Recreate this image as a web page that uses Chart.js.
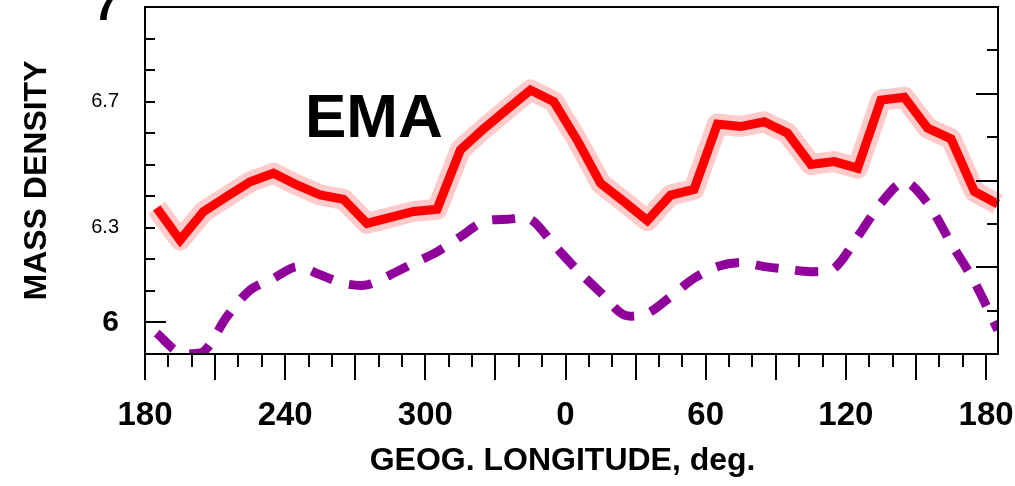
<!DOCTYPE html>
<html>
<head>
<meta charset="utf-8">
<script src="https://cdn.jsdelivr.net/npm/chart.js@4.4.1/dist/chart.umd.min.js"></script>
<style>
html, body { margin: 0; padding: 0; background: #fff; }
</style>
</head>
<body>
<canvas id="chart" width="1015" height="486"></canvas>
<script>
// geog. longitude, unwrapped (185 ... 545 = 185 ... 180+5)
LONGITUDE = [185, 195, 205, 215, 225, 235, 245, 255, 265, 275,
             285, 295, 305, 315, 325, 335, 345, 355, 365, 375,
             385, 395, 405, 415, 425, 435, 445, 455, 465, 475,
             485, 495, 505, 515, 525, 535, 545]

EMA_SOLID = [6.363, 6.261, 6.351, 6.399, 6.446, 6.473, 6.436, 6.404, 6.390, 6.314,
             6.333, 6.352, 6.359, 6.547, 6.614, 6.676, 6.737, 6.700, 6.578, 6.441,
             6.383, 6.323, 6.404, 6.422, 6.629, 6.621, 6.636, 6.600, 6.501, 6.510,
             6.489, 6.705, 6.714, 6.616, 6.582, 6.415, 6.375]

EMA_DASHED = [5.966, 5.903, 5.907, 6.018, 6.103, 6.140, 6.177, 6.151, 6.124, 6.119,
              6.151, 6.188, 6.224, 6.272, 6.320, 6.327, 6.327, 6.246, 6.166, 6.095,
              6.024, 6.029, 6.082, 6.140, 6.177, 6.190, 6.177, 6.169, 6.161, 6.172,
              6.272, 6.378, 6.446, 6.378, 6.251, 6.129, 5.976]

X_TICKS = [180, 240, 300, 360, 420, 480, 540]
X_TICK_LABELS = ['180', '240', '300', '0', '60', '120', '180']
Y_TICKS = [6, 6.3, 6.7, 7]

FONT = "'Liberation Sans', Arial, sans-serif"

function pts(ys) {
    return ys.map((y, i) => ({x: LONGITUDE[i], y: y}))
}

// frame, inward/outward tick marks and the EMA label
framePlugin = {
    id: 'frame',
    afterDatasetsDraw(chart) {
        var ctx = chart.ctx
        var a = chart.chartArea
        var xs = chart.scales.x, ys = chart.scales.y, y2 = chart.scales.y2
        ctx.save()
        ctx.strokeStyle = '#000'
        ctx.lineWidth = 2
        ctx.strokeRect(a.left, a.top, a.right - a.left, a.bottom - a.top)
        ctx.beginPath()
        // left: minor every 0.1, major at integers
        for (var i = 59; i <= 70; i++) {
            var py = Math.round(ys.getPixelForValue(i / 10))
            var len = (i % 10 == 0) ? 21 : 10
            ctx.moveTo(a.left, py); ctx.lineTo(a.left + len, py)
        }
        // right: 8 divisions
        for (var j = 0; j <= 8; j++) {
            var py2 = Math.round(y2.getPixelForValue(j))
            var len2 = (j % 2 == 0) ? 22 : 11
            ctx.moveTo(a.right, py2); ctx.lineTo(a.right - len2, py2)
        }
        // bottom: every 10 deg, long every 30 deg
        for (var d = 180; d <= 540; d += 10) {
            var px = Math.round(xs.getPixelForValue(d))
            var len3 = (d % 30 == 0) ? 26 : 13
            ctx.moveTo(px, a.bottom); ctx.lineTo(px, a.bottom + len3)
        }
        ctx.stroke()
        ctx.fillStyle = '#000'
        ctx.font = "bold 62px " + FONT
        ctx.textBaseline = 'alphabetic'
        ctx.fillText('EMA', 305, 137)
        ctx.restore()
    }
}

new Chart('chart', {
    type: 'line',
    data: {
        datasets: [
            {
                label: 'EMA',
                data: pts(EMA_SOLID),
                borderColor: '#ff0000',
                borderWidth: 9,
                borderJoinStyle: 'miter',
                pointRadius: 0,
                tension: 0,
                clip: 4,
                order: 1
            },
            {
                label: 'halo',
                data: pts(EMA_SOLID),
                borderColor: '#ffcaca',
                borderWidth: 21,
                borderJoinStyle: 'round',
                pointRadius: 0,
                tension: 0,
                clip: 4,
                order: 3
            },
            {
                label: 'EMA dashed',
                data: pts(EMA_DASHED),
                borderColor: '#90009a',
                borderWidth: 9,
                borderDash: [23, 17],
                pointRadius: 0,
                tension: 0.3,
                clip: 0,
                order: 2
            }
        ]
    },
    options: {
        responsive: false,
        animation: false,
        devicePixelRatio: 1,
        layout: { padding: { top: 7, right: 17, left: 0, bottom: 0 } },
        plugins: { legend: { display: false }, tooltip: { enabled: false } },
        scales: {
            x: {
                type: 'linear',
                min: 180,
                max: 545.1,
                grid: { display: false, drawTicks: false },
                border: { display: false },
                afterBuildTicks: s => { s.ticks = X_TICKS.map(v => ({value: v})) },
                afterFit: s => { s.height = 132; s.paddingLeft = 0; s.paddingRight = 0 },
                ticks: {
                    autoSkip: false,
                    maxRotation: 0,
                    padding: 42,
                    color: '#000',
                    font: { family: FONT, weight: 'bold', size: 33 },
                    callback: v => X_TICK_LABELS[X_TICKS.indexOf(v)]
                },
                title: {
                    display: true,
                    text: 'GEOG. LONGITUDE, deg.  ',
                    color: '#000',
                    padding: { top: 0, bottom: 6 },
                    font: { family: FONT, weight: 'bold', size: 32 }
                }
            },
            y: {
                min: 5.9,
                max: 7.0,
                grid: { display: false, drawTicks: false },
                border: { display: false },
                afterBuildTicks: s => { s.ticks = Y_TICKS.map(v => ({value: v})) },
                afterFit: s => { s.width = 145; s.paddingTop = 0; s.paddingBottom = 0 },
                ticks: {
                    padding: 26,
                    color: '#000',
                    font: ctx => {
                        var v = ctx.tick ? ctx.tick.value : 0
                        if (v == 7) return { family: FONT, weight: 'bold', size: 46 }
                        if (v == 6) return { family: FONT, weight: 'bold', size: 30 }
                        return { family: FONT, size: 20 }
                    },
                    callback: v => (v == 6 || v == 7) ? String(v) : v.toFixed(1)
                },
                title: {
                    display: true,
                    text: 'MASS DENSITY',
                    color: '#000',
                    padding: { top: 18, bottom: 0 },
                    font: { family: FONT, weight: 'bold', size: 32 }
                }
            },
            y2: {
                position: 'right',
                display: false,
                min: 0,
                max: 8
            }
        }
    },
    plugins: [framePlugin]
})
</script>
</body>
</html>
